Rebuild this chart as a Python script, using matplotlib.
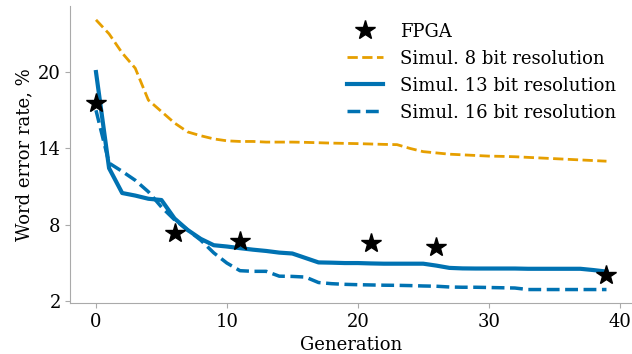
import numpy as np
import matplotlib
matplotlib.use("Agg")
import matplotlib.pyplot as plt

# FPGA measurements
fpga_gen = [0, 6, 11, 21, 26, 39]
fpga_wer = [17.6, 7.35, 6.7, 6.57, 6.3, 4.1]

# simulations (one value per generation 0..39)
generations = list(range(40))
sim8 = [24.1, 23.0, 21.5, 20.3, 17.8, 16.9, 16.0, 15.3, 15.0, 14.75,
        14.6, 14.55, 14.55, 14.5, 14.5, 14.5, 14.48, 14.45, 14.42, 14.4,
        14.38, 14.35, 14.32, 14.3, 14.0, 13.75, 13.65, 13.55, 13.5, 13.45,
        13.4, 13.38, 13.35, 13.3, 13.25, 13.2, 13.15, 13.1, 13.05, 13.0]
sim13 = [20.0, 12.45, 10.5, 10.3, 10.05, 9.95, 8.5, 7.6, 6.9, 6.4,
         6.3, 6.17, 6.05, 5.95, 5.82, 5.75, 5.4, 5.05, 5.03, 5.0,
         5.0, 4.97, 4.95, 4.95, 4.95, 4.95, 4.8, 4.62, 4.58, 4.57,
         4.57, 4.57, 4.57, 4.55, 4.55, 4.55, 4.55, 4.55, 4.45, 4.33]
sim16 = [17.0, 12.85, 12.2, 11.5, 10.6, 9.4, 8.4, 7.6, 6.8, 5.8,
         5.0, 4.4, 4.35, 4.35, 3.97, 3.95, 3.9, 3.47, 3.38, 3.33,
         3.3, 3.28, 3.26, 3.25, 3.23, 3.2, 3.18, 3.12, 3.1, 3.1,
         3.08, 3.06, 3.04, 2.92, 2.92, 2.92, 2.92, 2.92, 2.92, 2.92]

plt.rcParams['font.family'] = 'DejaVu Serif'
plt.rcParams['font.size'] = 13

fig, ax = plt.subplots(figsize=(6.32, 3.54), dpi=100)

ax.plot(fpga_gen, fpga_wer, linestyle='none', marker='*', markersize=15,
        color='black', label='FPGA', zorder=5)
ax.plot(generations, sim8, '--', color='#E69F00', linewidth=2, label='Simul. 8 bit resolution')
ax.plot(generations, sim13, '-', color='#0072B2', linewidth=3, label='Simul. 13 bit resolution')
ax.plot(generations, sim16, '--', color='#0072B2', linewidth=2.5, label='Simul. 16 bit resolution')

ax.set_yticks([2, 8, 14, 20])
ax.set_xticks([0, 10, 20, 30, 40])
ax.set_xlabel('Generation', labelpad=3.5)
ax.set_ylabel('Word error rate, %', labelpad=3)

for side in ['top', 'right']:
    ax.spines[side].set_visible(False)
for side in ['left', 'bottom']:
    ax.spines[side].set_color('#aaaaaa')
ax.tick_params(colors='#aaaaaa', labelcolor='black')

ax.legend(frameon=False, loc='upper right', bbox_to_anchor=(1.0, 1.0),
          labelspacing=0.5, handletextpad=0.9)

plt.subplots_adjust(left=0.1115, right=1.0, top=0.982, bottom=0.144)
plt.savefig('out.png', dpi=100)
